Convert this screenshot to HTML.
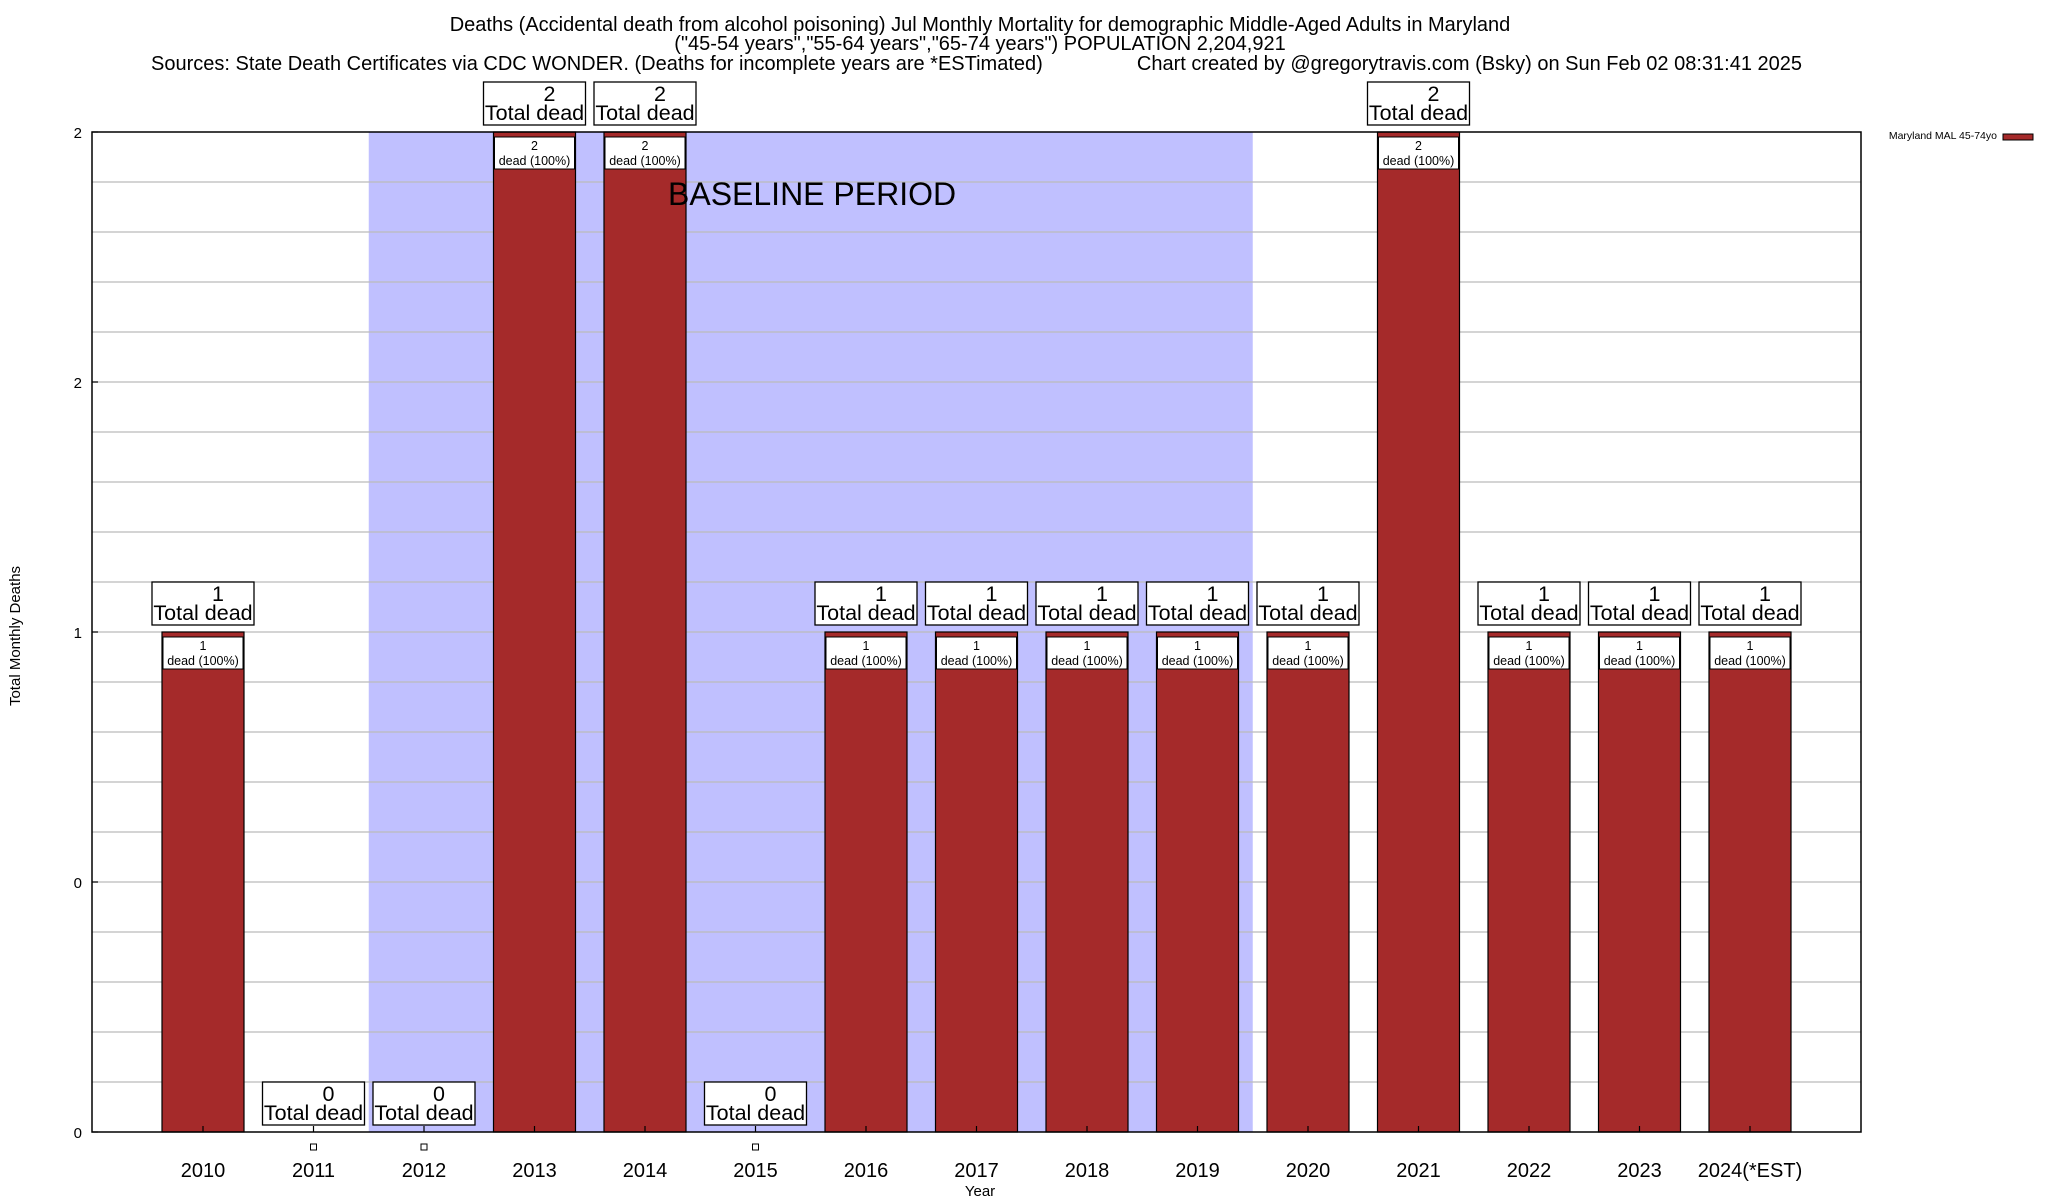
<!DOCTYPE html>
<html><head><meta charset="utf-8"><style>
html,body{margin:0;padding:0;background:#fff;}
svg{display:block;font-family:"Liberation Sans",Arial,sans-serif;}
</style></head><body>
<svg id="chart" width="2048" height="1200" viewBox="0 0 2048 1200" xmlns="http://www.w3.org/2000/svg">
<rect x="0" y="0" width="2048" height="1200" fill="#fff"/>
<g id="bg"></g>
<g id="grid"></g>
<g id="bars"></g>
<g id="labels"></g>
<g id="axes"></g>
<text x="980" y="31" font-size="20" text-anchor="middle">Deaths (Accidental death from alcohol poisoning) Jul Monthly Mortality for demographic Middle-Aged Adults in Maryland</text>
<text x="980" y="50" font-size="20" text-anchor="middle">("45-54 years","55-64 years","65-74 years") POPULATION 2,204,921</text>
<text x="151" y="70" font-size="20">Sources: State Death Certificates via CDC WONDER. (Deaths for incomplete years are *ESTimated)</text>
<text x="1802" y="70" font-size="20" text-anchor="end">Chart created by @gregorytravis.com (Bsky) on Sun Feb 02 08:31:41 2025</text>
<text x="668" y="205" font-size="32">BASELINE PERIOD</text>
<text x="980" y="1196" font-size="15" text-anchor="middle">Year</text>
<text x="20" y="636" font-size="15" text-anchor="middle" transform="rotate(-90 20 636)">Total Monthly Deaths</text>
<g>
<text x="1997" y="139" font-size="10.5" text-anchor="end">Maryland MAL 45-74yo</text>
<rect x="2003" y="134" width="30" height="6" fill="#a52a2a" stroke="#000" stroke-width="1"/>
</g>
</svg>
<script>
const years = ["2010","2011","2012","2013","2014","2015","2016","2017","2018","2019","2020","2021","2022","2023","2024(*EST)"];
const deaths = [1,0,0,2,2,0,1,1,1,1,1,2,1,1,1];
const yTicks = [0,0.5,1,1.5,2];
const yTickLabels = ["0","0","1","2","2"];
const baselineStart = 1.5, baselineEnd = 9.5;

const NS="http://www.w3.org/2000/svg";
const L=92,R=1861,T=132,B=1132;
const x0=203, step=110.5, barW=82;
function xs(i){return x0+step*i;}
function ys(v){return B-(v/2)*(B-T);}
function mk(tag,attrs,parent,text){const e=document.createElementNS(NS,tag);for(const k in attrs)e.setAttribute(k,attrs[k]);if(text!==undefined)e.textContent=text;parent.appendChild(e);return e;}
const bg=document.getElementById('bg'),grid=document.getElementById('grid'),bars=document.getElementById('bars'),labels=document.getElementById('labels'),axes=document.getElementById('axes');

let sh=mk('rect',{x:xs(baselineStart),y:T,width:xs(baselineEnd)-xs(baselineStart),height:B-T,fill:'#c0c0ff'},bg);



for(let k=1;k<20;k++){
  const v=k*0.1;
  let g=mk('line',{x1:L,x2:R,y1:ys(v),y2:ys(v),stroke:'#bbb','stroke-width':1.3},grid);
  
  
}

deaths.forEach((d,i)=>{
  const cx=xs(i);
  if(d>0){
    let b=mk('rect',{x:cx-barW/2,y:ys(d),width:barW,height:B-ys(d),fill:'#a52a2a',stroke:'#000','stroke-width':1.2},bars);
    
    
    let ib=mk('rect',{x:cx-40,y:ys(d)+5,width:80,height:32,fill:'#fff',stroke:'#000','stroke-width':1},labels);
    
    
    let t1=mk('text',{x:cx,y:ys(d)+18,'font-size':12.5,'text-anchor':'middle'},labels,String(d));
    
    
    let t2=mk('text',{x:cx,y:ys(d)+33,'font-size':12.5,'text-anchor':'middle'},labels,'dead (100%)');
    
    
  } else {
    let sq=mk('rect',{x:cx-3,y:B+12,width:6,height:6,fill:'#fff',stroke:'#000','stroke-width':1},labels);
    
    
  }
  const by=ys(d)-7;
  let ob=mk('rect',{x:cx-51,y:by-43,width:102,height:43,fill:'#fff',stroke:'#000','stroke-width':1.3},labels);
  
  
  let o1=mk('text',{x:cx+15,y:by-24,'font-size':21.5,'text-anchor':'middle'},labels,String(d));
  
  
  let o2=mk('text',{x:cx,y:by-5,'font-size':21.5,'text-anchor':'middle'},labels,'Total dead');
  
  
  let xl=mk('text',{x:cx,y:1177,'font-size':20,'text-anchor':'middle'},axes,years[i]);
  
  
  let tk=mk('line',{x1:cx,x2:cx,y1:B,y2:B-6,stroke:'#000','stroke-width':1.2},axes);
  
  
});

yTicks.forEach((v,i)=>{
  let yl=mk('text',{x:82,y:ys(v)+6,'font-size':15,'text-anchor':'end'},axes,yTickLabels[i]);
  
  
  let t=mk('line',{x1:L,x2:L+6,y1:ys(v),y2:ys(v),stroke:'#000','stroke-width':1.2},axes);
  
  
});
let fr=mk('rect',{x:L,y:T,width:R-L,height:B-T,fill:'none',stroke:'#000','stroke-width':1.5},axes);


</script>
</body></html>
